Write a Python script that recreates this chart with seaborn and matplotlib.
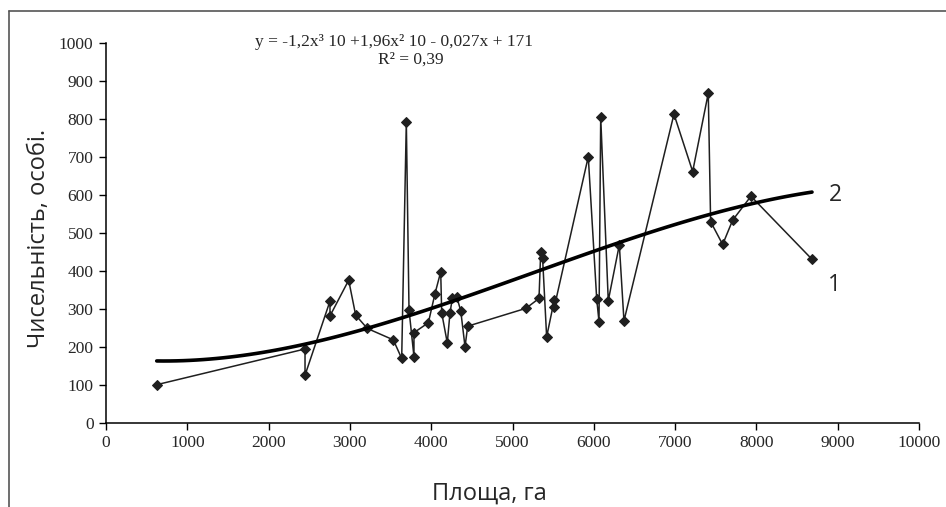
import seaborn as sns
import matplotlib.pyplot as plt
from matplotlib.lines import Line2D

# площа ділянок (га) і чисельність (особі) в порядку з'єднання лінією
area = [624, 2448, 2448, 2755, 2755, 2985, 3071, 3214, 3534, 3637, 3694, 3727,
        3788, 3788, 3965, 4047, 4117, 4129, 4198, 4231, 4260, 4314, 4363, 4416,
        4449, 5166, 5326, 5347, 5370, 5420, 5514, 5514, 5932, 6036, 6064, 6085,
        6178, 6314, 6371, 6986, 7216, 7408, 7437, 7585, 7708, 7933, 8684]
count = [100, 194, 125, 320, 281, 375, 283, 248, 218, 169, 792, 297,
         174, 237, 263, 340, 397, 289, 210, 289, 327, 331, 295, 200,
         254, 301, 327, 450, 433, 226, 323, 304, 700, 325, 266, 804,
         321, 468, 268, 812, 661, 867, 529, 469, 533, 596, 430]

x_ticks = list(range(0, 10001, 1000))
y_ticks = list(range(0, 1001, 100))

eq_text = 'y = -1,2x³ 10 +1,96x² 10 - 0,027x + 171'
r2_text = 'R² = 0,39'

sns.set_style('white')
plt.rcParams['font.family'] = ['Liberation Serif', 'DejaVu Serif']

fig = plt.figure(figsize=(9.46, 5.07), dpi=100)
W, H = 946, 507
ax = fig.add_axes([106 / W, 1 - 422.7 / H, 813 / W, 380 / H])

# крива 2 - поліноміальний тренд 3-го порядку
sns.regplot(x=area, y=count, order=3, ci=None, scatter=False, truncate=True,
            line_kws=dict(color='black', lw=2.6, zorder=3), ax=ax)

# лінія 1 - фактичні дані
sns.lineplot(x=area, y=count, estimator=None, sort=False, marker='D',
             markersize=5.5, color='#1f1f1f', lw=1.1,
             markeredgecolor='#1f1f1f', ax=ax, zorder=2)

ax.set_xlim(0, 10000)
ax.set_ylim(0, 1000)
ax.set_xticks(x_ticks)
ax.set_yticks(y_ticks)
ax.tick_params(direction='out', length=5, width=1, color='black',
               labelsize=12.5, left=True, bottom=True, pad=4)
for s in ['top', 'right']:
    ax.spines[s].set_visible(False)
for s in ['left', 'bottom']:
    ax.spines[s].set_color('black')
    ax.spines[s].set_linewidth(1.1)
ax.set_xlabel('')
ax.set_ylabel('')

sans = ['Open Sans', 'DejaVu Sans']
fig.text(39 / W, 1 - 238 / H, 'Чисельність, особі.', rotation=90,
         ha='center', va='center', fontsize=17, family=sans)
fig.text(489 / W, 1 - 494 / H, 'Площа, га', ha='center', va='center',
         fontsize=17, family=sans)
fig.text(835 / W, 1 - 195 / H, '2', ha='center', va='center',
         fontsize=16.5, family=sans)
fig.text(834 / W, 1 - 285 / H, '1', ha='center', va='center',
         fontsize=16.5, family=sans)

fig.text(394 / W, 1 - 42 / H, eq_text, ha='center', va='center', fontsize=12.5)
fig.text(411 / W, 1 - 60 / H, r2_text, ha='center', va='center', fontsize=12.5)

# рамка області діаграми
fig.add_artist(Line2D([9 / W, 1], [1 - 11 / H] * 2, color='#555555', lw=1.2))
fig.add_artist(Line2D([9 / W] * 2, [0, 1 - 11 / H], color='#555555', lw=1.2))

fig.savefig('out.png', dpi=100)
